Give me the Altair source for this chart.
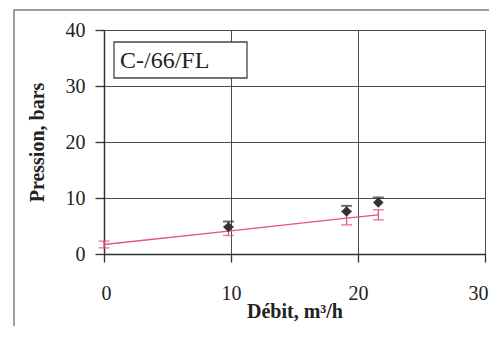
import altair as alt
import pandas as pd

# measured points (dark markers with upper error caps)
meas_x = [9.8, 19.1, 21.6]
meas_y = [4.8, 7.6, 9.2]
meas_hi = [5.8, 8.6, 10.1]

# fitted (pink) line with error bars
fit_x = [0, 9.8, 19.1, 21.6]
fit_y = [1.7, 4.1, 6.4, 7.0]
fit_lo = [1.1, 3.3, 5.2, 6.1]
fit_hi = [2.3, 4.9, 7.6, 7.9]

label = ["C-/66/FL"]
x_ticks = [0, 10, 20, 30]
y_ticks = [0, 10, 20, 30, 40]

FONT = "Liberation Serif"
PINK = "#e4508a"
DARK = "#333333"
GRID = "#4a4a4a"

meas = pd.DataFrame({"x": meas_x, "y": meas_y, "hi": meas_hi})
fit = pd.DataFrame({"x": fit_x, "y": fit_y, "lo": fit_lo, "hi": fit_hi})
lab = pd.DataFrame({"t": label})

xs = alt.Scale(domain=[0, 30], nice=False, zero=False)
ys = alt.Scale(domain=[0, 40], nice=False, zero=False)

common = dict(grid=True, gridColor=GRID, gridWidth=1, gridOpacity=1,
              domainColor="#333", domainWidth=1.5, tickColor="#333", tickWidth=1.3,
              labelFontSize=20, labelFont=FONT, labelColor="#222",
              titleFont=FONT, titleFontSize=20, titleFontWeight="bold", titleColor="#222")

xaxis = alt.Axis(values=x_ticks, title="Débit, m³/h", tickSize=8, labelPadding=21,
                 titleY=63, titleBaseline="alphabetic", labelFlush=True, labelFlushOffset=3,
                 **common)
yaxis = alt.Axis(values=y_ticks, title="Pression, bars", tickSize=9, labelPadding=10,
                 titleX=-61, titleY=112, titleBaseline="alphabetic",
                 titleAlign="center", titleAngle=-90, **common)

X = alt.X("x:Q", scale=xs, axis=xaxis)

def Y(field):
    return alt.Y(f"{field}:Q", scale=ys, axis=yaxis)

frame = alt.Chart(lab).mark_rect(filled=False, stroke="#808080", strokeWidth=1.5).encode(
    x=alt.value(-90), x2=alt.value(500), y=alt.value(-20), y2=alt.value(400))

box = alt.Chart(lab).mark_rect(fill="white", stroke="#444", strokeWidth=1.3).encode(
    x=alt.value(10), x2=alt.value(143), y=alt.value(12), y2=alt.value(48))

txt = alt.Chart(lab).mark_text(align="left", baseline="alphabetic", font=FONT,
                               fontSize=24, color="#222").encode(
    x=alt.value(16), y=alt.value(38), text="t:N")

line = alt.Chart(fit).mark_line(color=PINK, strokeWidth=1.3).encode(x=X, y=Y("y"))
fit_rule = alt.Chart(fit).mark_rule(color=PINK, strokeWidth=1.3).encode(x=X, y=Y("lo"), y2="hi:Q")
fit_cap_lo = alt.Chart(fit).mark_tick(color=PINK, orient="horizontal", size=11, thickness=1.5).encode(x=X, y=Y("lo"))
fit_cap_hi = alt.Chart(fit).mark_tick(color=PINK, orient="horizontal", size=11, thickness=1.5).encode(x=X, y=Y("hi"))

meas_rule = alt.Chart(meas).mark_rule(color=DARK, strokeWidth=1.5).encode(x=X, y=Y("y"), y2="hi:Q")
meas_cap = alt.Chart(meas).mark_tick(color=DARK, orient="horizontal", size=11, thickness=2).encode(x=X, y=Y("hi"))
pts = alt.Chart(meas).mark_point(shape="diamond", filled=True, color=DARK, size=110, opacity=1).encode(x=X, y=Y("y"))

chart = alt.layer(frame, line, fit_rule, fit_cap_lo, fit_cap_hi, meas_rule, meas_cap, pts, box, txt).properties(
    width=381, height=224,
    autosize=alt.AutoSizeParams(type="none"),
    padding={"left": 96, "top": 22, "right": 4, "bottom": 72},
).configure_view(strokeWidth=0).configure(background="white")

chart.save("out.html", embed_options={"renderer": "svg", "actions": False})
